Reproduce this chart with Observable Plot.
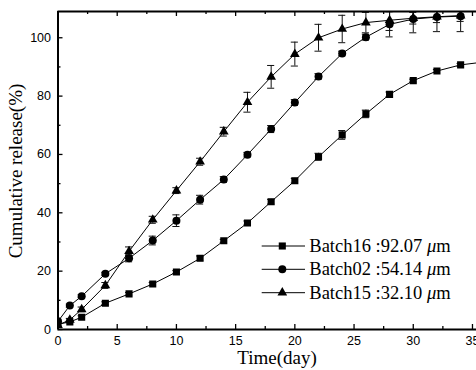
<!DOCTYPE html>
<html>
<head>
<meta charset="utf-8">
<script src="https://cdn.jsdelivr.net/npm/d3@7"></script>
<script src="https://cdn.jsdelivr.net/npm/@observablehq/plot@0.6"></script>
<style>
  html, body { margin: 0; padding: 0; background: #fff; }
  #chart svg { display: block; }
</style>
</head>
<body>
<div id="chart"></div>
<script>
// ---- data ----
const days = [0, 1, 2, 4, 6, 8, 10, 12, 14, 16, 18, 20, 22, 24, 26, 28, 30, 32, 34, 36];

const batch16 = [1.8, 2.6, 4.2, 9.0, 12.2, 15.6, 19.7, 24.4, 30.4, 36.5, 43.8, 51.0, 59.2, 66.7, 73.9, 80.6, 85.3, 88.6, 90.7, 91.7];
const err16   = [0.3, 0.3, 0.5, 0.5, 0.5, 0.5, 0.5, 0.8, 0.5, 0.7, 0.8, 0.8, 1.2, 1.5, 1.3, 0.8, 0.5, 0.5, 0.5, 0.5];

const batch02 = [2.8, 8.2, 11.4, 19.1, 24.4, 30.5, 37.3, 44.5, 51.4, 59.9, 68.7, 77.8, 86.7, 94.6, 100.2, 104.6, 106.4, 107.1, 107.4, null];
const err02   = [0.3, 0.5, 0.5, 0.5, 1.2, 1.5, 2.0, 1.5, 1.0, 0.8, 1.2, 1.0, 1.0, 0.8, 1.0, 4.3, 4.7, 5.0, 5.3, null];

const batch15 = [1.5, 3.3, 6.9, 15.1, 26.8, 37.6, 47.6, 57.5, 67.8, 77.9, 86.6, 94.4, 100.0, 103.0, 105.2, 106.0, 106.7, 107.2, 107.6, null];
const err15   = [0.5, 0.5, 0.8, 1.0, 1.5, 1.2, 1.0, 1.2, 1.5, 3.4, 3.9, 4.1, 4.6, 4.7, 3.5, 3.5, 2.0, 2.0, 2.0, null];

const seriesNames = ["Batch16", "Batch02", "Batch15"];
const seriesSizes = ["92.07", "54.14", "32.10"];
const seriesSymbols = ["square", "circle", "triangle"];

const xTicks = [0, 5, 10, 15, 20, 25, 30, 35];
const xMinorTicks = [2.5, 7.5, 12.5, 17.5, 22.5, 27.5, 32.5];
const yTicks = [0, 20, 40, 60, 80, 100];
const yMinorTicks = [10, 30, 50, 70, 90];

const xLabel = "Time(day)";
const yLabel = "Cumulative release(%)";

// ---- build tables ----
function rows(vals, errs, name) {
  return days.map((d, i) => ({day: d, v: vals[i], e: errs[i], s: name}))
             .filter(r => r.v != null);
}
const r16 = rows(batch16, err16, seriesNames[0]);
const r02 = rows(batch02, err02, seriesNames[1]);
const r15 = rows(batch15, err15, seriesNames[2]);
const allRows = [...r16, ...r02, ...r15];

// ---- layout ----
const W = 476, H = 370;
const mL = 57.5, mR = 0, mT = 11, mB = 41;
const frameW = W - mL - mR, frameH = H - mT - mB;
const majorLen = 5, minorLen = 3;

const symSize = {square: 4, circle: 4, triangle: 3.6};

const chart = Plot.plot({
  width: W,
  height: H,
  marginLeft: mL,
  marginRight: mR,
  marginTop: mT,
  marginBottom: mB,
  style: {fontFamily: "'Liberation Sans', Arial, sans-serif", fontSize: "12.5px", color: "black", background: "white"},
  x: {domain: [0, 35.34], ticks: xTicks, tickSize: 0, tickPadding: 7, label: null},
  y: {domain: [0, 109], ticks: yTicks, tickSize: 0, tickPadding: 7, label: null},
  marks: [
    // inward ticks: bottom, top
    Plot.tickX(xTicks, {x: d => d, insetTop: frameH - majorLen, strokeWidth: 1.3}),
    Plot.tickX(xMinorTicks, {x: d => d, insetTop: frameH - minorLen, strokeWidth: 1.3}),
    Plot.tickX(xTicks, {x: d => d, insetBottom: frameH - majorLen, strokeWidth: 1.3}),
    Plot.tickX(xMinorTicks, {x: d => d, insetBottom: frameH - minorLen, strokeWidth: 1.3}),
    // inward ticks: left
    Plot.tickY(yTicks, {y: d => d, insetRight: frameW - majorLen, strokeWidth: 1.3}),
    Plot.tickY(yMinorTicks, {y: d => d, insetRight: frameW - minorLen, strokeWidth: 1.3}),
    // lines
    Plot.line(r16, {x: "day", y: "v", stroke: "black", strokeWidth: 1, clip: true}),
    Plot.line(r02, {x: "day", y: "v", stroke: "black", strokeWidth: 1, clip: true}),
    Plot.line(r15, {x: "day", y: "v", stroke: "black", strokeWidth: 1, clip: true}),
    // error bars
    Plot.ruleX(allRows, {x: "day", y1: d => d.v - d.e, y2: d => d.v + d.e, stroke: "#111", strokeWidth: 1, clip: true}),
    Plot.ruleY(allRows, {y: d => d.v + d.e, x1: d => d.day - 0.3, x2: d => d.day + 0.3, stroke: "#111", strokeWidth: 1, clip: true}),
    Plot.ruleY(allRows, {y: d => d.v - d.e, x1: d => d.day - 0.3, x2: d => d.day + 0.3, stroke: "#111", strokeWidth: 1, clip: true}),
    // markers
    Plot.dot(r16, {x: "day", y: "v", symbol: () => "square", fill: "black", stroke: "none", r: symSize.square, clip: true}),
    Plot.dot(r02, {x: "day", y: "v", symbol: () => "circle", fill: "black", stroke: "none", r: symSize.circle, clip: true}),
    Plot.dot(r15, {x: "day", y: "v", symbol: () => "triangle", fill: "black", stroke: "none", r: symSize.triangle, clip: true}),
    // frame (left, bottom, top)
    Plot.ruleX([0], {strokeWidth: 2}),
    Plot.ruleY([0], {strokeWidth: 2}),
    Plot.ruleY([109], {strokeWidth: 2})
  ]
});

document.getElementById("chart").appendChild(chart);

// ---- axis titles and legend ----
const svg = d3.select(chart);
const serif = "'Liberation Serif', 'Times New Roman', serif";

svg.append("text")
  .attr("x", 277).attr("y", 364)
  .attr("text-anchor", "middle")
  .attr("font-family", serif).attr("font-size", 19).attr("fill", "black")
  .text(xLabel);

svg.append("text")
  .attr("transform", "translate(21.5,171) rotate(-90)")
  .attr("text-anchor", "middle")
  .attr("font-family", serif).attr("font-size", 19).attr("fill", "black")
  .text(yLabel);

const symType = {square: d3.symbolSquare, circle: d3.symbolCircle, triangle: d3.symbolTriangle};
const leg = svg.append("g");
const rowY = [246, 269.3, 292.7];
seriesNames.forEach((name, i) => {
  const y = rowY[i];
  leg.append("line").attr("x1", 261.7).attr("x2", 305).attr("y1", y).attr("y2", y)
     .attr("stroke", "black").attr("stroke-width", 1);
  const sym = seriesSymbols[i];
  const r = symSize[sym];
  leg.append("path")
     .attr("transform", `translate(282.3,${y})`)
     .attr("d", d3.symbol(symType[sym], Math.PI * r * r)())
     .attr("fill", "black");
  const t = leg.append("text").attr("x", 309.3).attr("y", y + 6)
     .attr("text-anchor", "start")
     .attr("font-family", serif).attr("font-size", 18.5).attr("fill", "black");
  t.append("tspan").text(`${name} :${seriesSizes[i]} `);
  t.append("tspan").attr("font-style", "italic").text("μ");
  t.append("tspan").text("m");
});
</script>
</body>
</html>
